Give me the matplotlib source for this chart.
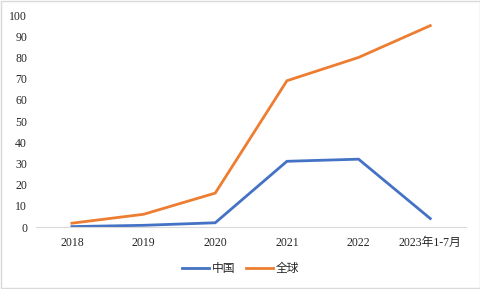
import matplotlib.pyplot as plt

categorias = ['2018', '2019', '2020', '2021', '2022', '2023年1-7月']
china = [0.2, 0.8, 2, 31, 32, 4]
global_ = [1.8, 6, 16, 69, 80, 95]

plt.rcParams['font.family'] = ['Liberation Serif', 'Noto Sans CJK SC']

fig = plt.figure(figsize=(4.81, 2.89), dpi=100)
ax = fig.add_axes([0.075, 0.2145, 0.894, 0.7335])

x = range(len(categorias))
ax.plot(x, china, color='#4472C4', lw=2.0, label='中国', solid_joinstyle='miter')
ax.plot(x, global_, color='#ED7D31', lw=2.0, label='全球', solid_joinstyle='miter')

ax.set_xlim(-0.5, 5.5)
ax.set_ylim(0, 100)
ax.set_yticks(range(0, 101, 10))
ax.set_xticks(list(x))
ax.set_xticklabels(categorias)
for s in ['top', 'right', 'left']:
    ax.spines[s].set_visible(False)
ax.spines['bottom'].set_color('#d9d9d9')
ax.tick_params(axis='both', length=0, labelsize=8.5, colors='#262626', pad=7)
ax.tick_params(axis='y', pad=6.5)

# legenda centrada na figura
leg = fig.legend(loc='center', bbox_to_anchor=(0.5, 0.07), ncol=2, frameon=False,
                 prop={'family': ['Noto Sans CJK SC'], 'size': 8.5},
                 handlelength=2.3, columnspacing=0.9, handletextpad=0.25)
for t in leg.get_texts():
    t.set_color('#262626')

fig.patches.append(plt.Rectangle((0.002, 0.003), 0.996, 0.994, transform=fig.transFigure,
                                 fill=False, edgecolor='#d9d9d9', lw=1))

fig.savefig('out.png', dpi=100)
